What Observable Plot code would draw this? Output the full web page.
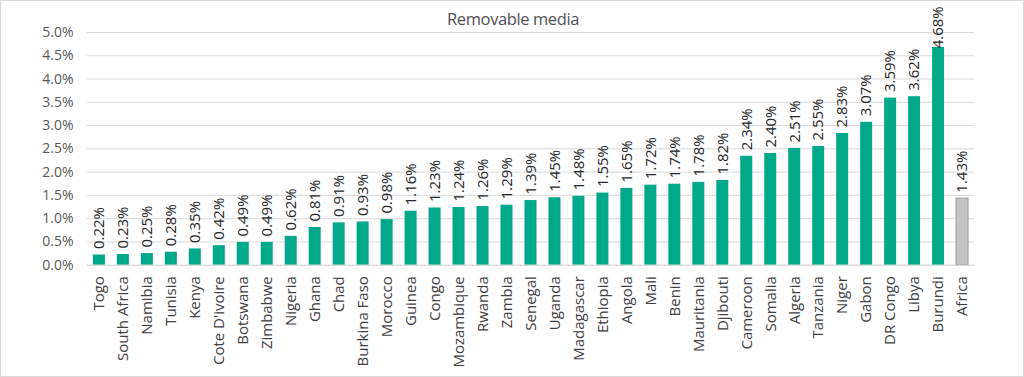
<!DOCTYPE html>
<html>
<head>
<meta charset="utf-8">
<script src="https://cdn.jsdelivr.net/npm/d3@7"></script>
<script src="https://cdn.jsdelivr.net/npm/@observablehq/plot@0.6"></script>
<style>
  html, body { margin: 0; padding: 0; background: #fff; }
  #wrap { position: relative; width: 1024px; height: 377px; box-sizing: border-box; border: 1px solid #d9d9d9; overflow: hidden; }
  #title { position: absolute; top: 6px; left: 0; width: 1024px; text-align: center; font-family: "Open Sans", sans-serif; font-size: 16.5px; font-weight: 500; color: #505050; letter-spacing: -0.4px; }
  #chart { position: absolute; top: -1px; left: -1px; }
  svg { overflow: visible; }
</style>
</head>
<body>
<div id="wrap">
  <div id="chart"></div>
  <div id="title">Removable media</div>
</div>
<script>
const countries = ["Togo","South Africa","Namibia","Tunisia","Kenya","Cote D'ivoire","Botswana","Zimbabwe","Nigeria","Ghana","Chad","Burkina Faso","Morocco","Guinea","Congo","Mozambique","Rwanda","Zambia","Senegal","Uganda","Madagascar","Ethiopia","Angola","Mali","Benin","Mauritania","Djibouti","Cameroon","Somalia","Algeria","Tanzania","Niger","Gabon","DR Congo","Libya","Burundi","Africa"];
const values = [0.22,0.23,0.25,0.28,0.35,0.42,0.49,0.49,0.62,0.81,0.91,0.93,0.98,1.16,1.23,1.24,1.26,1.29,1.39,1.45,1.48,1.55,1.65,1.72,1.74,1.78,1.82,2.34,2.40,2.51,2.55,2.83,3.07,3.59,3.62,4.68,1.43];
const yTicks = [0,0.5,1,1.5,2,2.5,3,3.5,4,4.5,5];

const data = countries.map((c, i) => ({country: c, value: values[i], total: c === "Africa"}));
const fmt = d => d.value.toFixed(2) + "%";

const chart = Plot.plot({
  width: 1024,
  height: 377,
  marginTop: 32,
  marginBottom: 112,
  marginLeft: 87,
  marginRight: 49,
  style: {fontFamily: "'Open Sans', sans-serif", fontSize: "15px", color: "#404040", background: "transparent", overflow: "visible"},
  x: {domain: countries, paddingInner: 0.5, paddingOuter: 0.25, label: null},
  y: {domain: [0, 5], label: null},
  marks: [
    Plot.gridY(yTicks, {stroke: "#d9d9d9", strokeOpacity: 1, strokeWidth: 1}),
    Plot.axisY(yTicks, {tickSize: 0, tickPadding: 14, tickFormat: d => d.toFixed(1) + "%", fill: "#595959", fontSize: 14, label: null}),
    Plot.axisX({tickSize: 0, tickPadding: 11, tickRotate: -90, fill: "#404040", fontSize: 15, label: null}),
    Plot.barY(data, {x: "country", y: "value", fill: d => d.total ? "#c4c4c4" : "#00a88b", stroke: d => d.total ? "#9a9a9a" : "none", strokeWidth: 1}),
    Plot.ruleY([0], {stroke: "#d9d9d9"}),
    Plot.text(data.filter(d => d.value <= 4.5), {x: "country", y: "value", text: fmt, rotate: -90, textAnchor: "start", lineAnchor: "middle", dy: -6, fill: "#262626", fontSize: 15})
    ,
    Plot.text(data.filter(d => d.value > 4.5), {x: "country", y: "value", text: fmt, rotate: -90, textAnchor: "start", lineAnchor: "middle", dy: 1, fill: "#262626", fontSize: 15})
  ]
});
document.getElementById("chart").appendChild(chart);
</script>
</body>
</html>
